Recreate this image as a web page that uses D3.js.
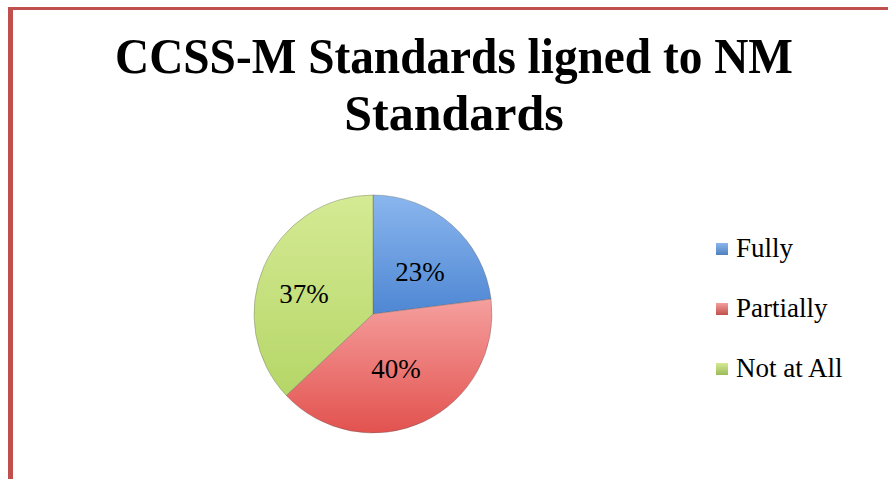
<!DOCTYPE html>
<html>
<head>
<meta charset="utf-8">
<script src="https://cdn.jsdelivr.net/npm/d3@7"></script>
<style>
    body { margin: 0; background: #fff; }
    text { font-family: "Liberation Serif", "DejaVu Serif", serif; fill: #000; }
</style>
</head>
<body>
<svg id="chart"></svg>
<script>
const width = 888;
const height = 479;

const titleLines = ['CCSS-M Standards ligned to NM', 'Standards'];
const categories = ['Fully', 'Partially', 'Not at All'];
const shares = [23, 40, 37];
const topColors = ['#8ab6ee', '#f59f9d', '#d5ea94'];
const bottomColors = ['#4f87d3', '#e2524f', '#b5d667'];
const legendColors = ['#4f81bd', '#c0504d', '#9bbb59'];

const chart = d3.select('#chart')
    .attr('width', width)
    .attr('height', height);

// frame lines
chart.append('rect')
    .attr('x', 8).attr('y', 7)
    .attr('width', width - 8).attr('height', 3)
    .style('fill', '#c0504d');
chart.append('rect')
    .attr('x', 8).attr('y', 7)
    .attr('width', 5).attr('height', height - 7)
    .style('fill', '#c0504d');

// title
const title = chart.append('g').attr('transform', 'translate(454, 0)');
const titleWidths = [678, 220];
title.selectAll('text')
    .data(titleLines)
    .enter().append('text')
    .attr('y', (_, i) => 73 + i * 57)
    .attr('text-anchor', 'middle')
    .style('font-size', '50px')
    .style('font-weight', 'bold')
    .text(_ => _)
    .each(function (_, i) {
        const len = this.getComputedTextLength();
        if (Math.abs(len - titleWidths[i]) > 4) {
            d3.select(this)
                .attr('textLength', titleWidths[i])
                .attr('lengthAdjust', 'spacingAndGlyphs');
        }
    });

// pie
const cx = 373;
const cy = 314;
const radius = 119;

// each slice gets its own top-to-bottom shading
const defs = chart.append('defs');
categories.forEach((c, i) => {
    const g = defs.append('linearGradient')
        .attr('id', `grad${i}`)
        .attr('x1', 0).attr('y1', 0)
        .attr('x2', 0).attr('y2', 1);
    g.append('stop').attr('offset', '0%').attr('stop-color', topColors[i]);
    g.append('stop').attr('offset', '100%').attr('stop-color', bottomColors[i]);
    const lg = defs.append('linearGradient')
        .attr('id', `leg${i}`)
        .attr('x1', 0).attr('y1', 0)
        .attr('x2', 0).attr('y2', 1);
    lg.append('stop').attr('offset', '0%').attr('stop-color', topColors[i]);
    lg.append('stop').attr('offset', '100%').attr('stop-color', legendColors[i]);
});

const pie = d3.pie().sort(null).value(_ => _);
const arc = d3.arc().innerRadius(0).outerRadius(radius);
const arcs = pie(shares);

const pieGroup = chart.append('g')
    .attr('transform', `translate(${cx}, ${cy})`);
pieGroup.selectAll('path')
    .data(arcs)
    .enter().append('path')
    .attr('d', arc)
    .style('fill', (_, i) => `url(#grad${i})`)
    .style('stroke', 'rgba(90,90,90,0.35)')
    .style('stroke-width', 1);

const labelOffsets = [[47, -33], [23, 64], [-69, -11]];
pieGroup.selectAll('text')
    .data(arcs)
    .enter().append('text')
    .attr('x', (_, i) => labelOffsets[i][0])
    .attr('y', (_, i) => labelOffsets[i][1])
    .attr('text-anchor', 'middle')
    .style('font-size', '27px')
    .text(_ => `${_.data}%`);

// legend
const legend = chart.append('g')
    .attr('transform', 'translate(716, 243)');
const item = legend.selectAll('g')
    .data(categories)
    .enter().append('g')
    .attr('transform', (_, i) => `translate(0, ${i * 60})`);
item.append('rect')
    .attr('width', 12).attr('height', 12)
    .style('fill', (_, i) => `url(#leg${i})`);
item.append('text')
    .attr('x', 20)
    .attr('y', 14)
    .style('font-size', '27px')
    .text(_ => _);
</script>
</body>
</html>
